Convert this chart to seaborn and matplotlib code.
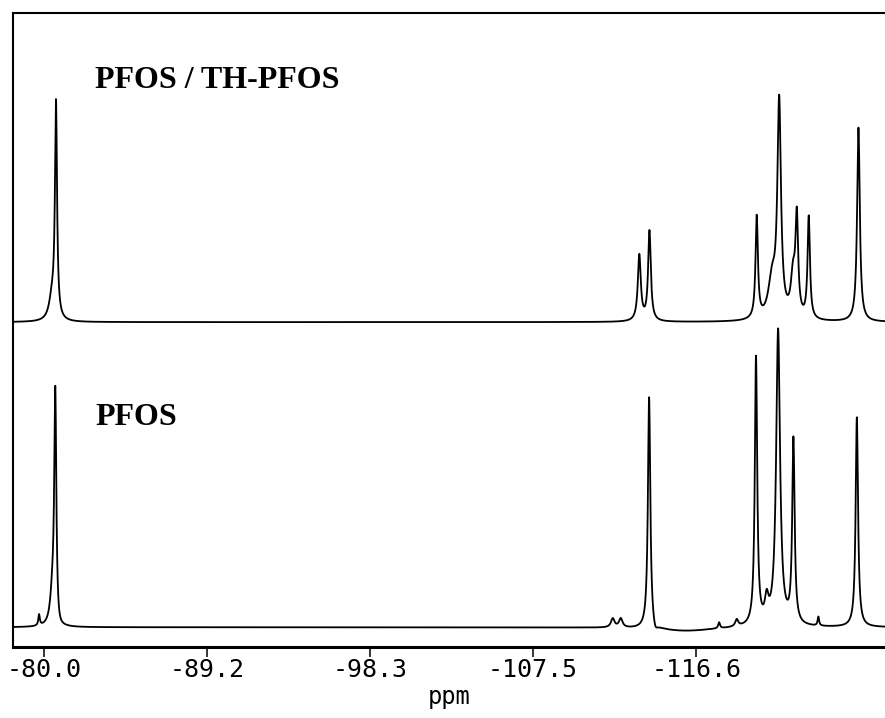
# 19F NMR spectra of PFOS and the PFOS / TH-PFOS mixture
import numpy as np
import pandas as pd
import matplotlib
matplotlib.use("Agg")
import matplotlib.pyplot as plt
import seaborn as sns

# peak lists: centre (ppm), height, half width (ppm)
mix_ppm    = [-80.45, -80.67, -113.41, -113.98, -120.00, -120.86, -121.26, -122.04, -122.25, -122.92, -125.71]
mix_height = [22, 213, 66, 90, 102, 38, 214, 40, 96, 102, 194]
mix_width  = [0.2, 0.07, 0.10, 0.09, 0.08, 0.25, 0.12, 0.15, 0.09, 0.08, 0.09]

pfos_ppm    = [-79.72, -80.47, -80.63, -80.80, -111.92, -112.37, -113.96, -114.30, -116.0,
               -117.89, -118.88, -119.96, -120.56, -121.20, -122.06, -123.46, -125.62]
pfos_height = [11, 30, 232, -8, 9, 9, 233, -8, -4, 6, 7, 268, 22, 296, 184, 9, 210]
pfos_width  = [0.05, 0.15, 0.07, 0.2, 0.12, 0.12, 0.08, 0.15, 2.0,
               0.06, 0.1, 0.08, 0.12, 0.13, 0.08, 0.05, 0.08]

tick_vals   = [-80.0, -89.15, -98.3, -107.45, -116.6]
tick_labels = ["-80.0", "-89.2", "-98.3", "-107.5", "-116.6"]

ppm = np.linspace(-78.24, -127.2, 5000)


def spectrum(centres, heights, widths):
    y = np.zeros_like(ppm)
    for c, h, w in zip(centres, heights, widths):
        y += h / (1 + ((ppm - c) / w) ** 2)
    return y


top_offset, bottom_offset = 325, 20
df = pd.concat([
    pd.DataFrame({"ppm": ppm, "signal": spectrum(mix_ppm, mix_height, mix_width) + top_offset,
                  "sample": "PFOS / TH-PFOS"}),
    pd.DataFrame({"ppm": ppm, "signal": spectrum(pfos_ppm, pfos_height, pfos_width) + bottom_offset,
                  "sample": "PFOS"}),
], ignore_index=True)

sns.set_style("white")
plt.rcParams.update({"text.color": "black", "axes.labelcolor": "black",
                     "xtick.color": "black"})
fig = plt.figure(figsize=(8.85, 7.18), dpi=100)
ax = fig.add_axes([0.01435, 0.0985, 0.98565, 0.8834])
sns.lineplot(data=df, x="ppm", y="signal", hue="sample", units="sample", estimator=None,
             palette={"PFOS / TH-PFOS": "black", "PFOS": "black"},
             linewidth=1.3, legend=False, sort=False, ax=ax)

ax.set_xlim(-78.24, -127.2)
ax.set_ylim(0, 634)
ax.set_yticks([])
ax.set_xticks(tick_vals)
ax.set_xticklabels(tick_labels, fontfamily="DejaVu Sans Mono", fontsize=18, color="black")
ax.tick_params(axis="x", direction="out", length=7, width=1.1, bottom=True, pad=1, colors="black")
ax.set_xlabel("ppm", fontfamily="DejaVu Sans Mono", fontsize=17, labelpad=2, color="black")
ax.set_ylabel("")
ax.spines["right"].set_visible(False)
for side, lw in [("left", 1.5), ("top", 1.5), ("bottom", 2.2)]:
    ax.spines[side].set_linewidth(lw)
    ax.spines[side].set_color("black")

fig.text(95 / 885, 1 - 88 / 718, "PFOS / TH-PFOS", fontfamily="Liberation Serif",
         fontweight="bold", fontsize=23, va="baseline", ha="left", color="black")
fig.text(95 / 885, 1 - 425 / 718, "PFOS", fontfamily="Liberation Serif",
         fontweight="bold", fontsize=23, va="baseline", ha="left", color="black")

fig.savefig("out.png", dpi=100, facecolor="white")
